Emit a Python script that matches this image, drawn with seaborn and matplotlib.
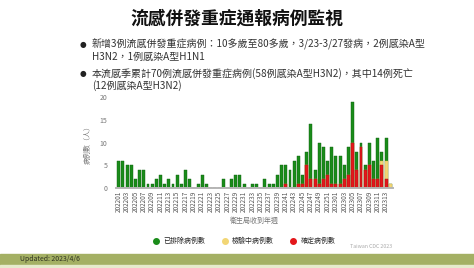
import numpy as np
import pandas as pd
import matplotlib
matplotlib.use("Agg")
import matplotlib.pyplot as plt
from matplotlib.lines import Line2D
from matplotlib.patches import Rectangle
import seaborn as sns

# --- du lieu: so ca theo tuan (202201 - 202314) ---
weeks = [f"2022{w:02d}" for w in range(1, 53)] + [f"2023{w:02d}" for w in range(1, 15)]

excluded = [6, 6, 5, 5, 2, 4, 4, 1, 1, 2, 3, 1, 2, 1, 3, 1, 4, 2,
            0, 1, 3, 1, 0, 0, 0, 2, 0, 2, 3, 3, 1, 0, 1, 1, 0, 2, 1, 1, 3,
            5, 4, 4, 6, 6, 2, 3, 12, 2, 9, 7, 3, 8,
            6, 6, 3, 6, 9, 4, 1, 1, 5, 4, 9, 2, 5, 0]
testing = [0] * 63 + [1, 4, 1]
confirmed = [0] * 40 + [1, 0, 0, 1, 1, 5, 2, 2, 1, 2, 3, 1,
                        1, 1, 2, 3, 10, 4, 9, 4, 5, 2, 2, 5, 2, 0]

title = "流感併發重症通報病例監視"
bullets = [
    ("新增3例流感併發重症病例：10多歲至80多歲，3/23-3/27發病，2例感染A型", "H3N2，1例感染A型H1N1"),
    ("本流感季累計70例流感併發重症病例(58例感染A型H3N2)，其中14例死亡", "(12例感染A型H3N2)"),
]
legend_labels = ["已排除病例數", "檢驗中病例數", "確定病例數"]

GREEN = "#1a8c1a"
YELLOW = "#f2d675"
RED = "#e3171b"

df = pd.DataFrame({"week": weeks, "excluded": excluded,
                   "testing": testing, "confirmed": confirmed})
df["top_red"] = df["confirmed"]
df["top_yellow"] = df["confirmed"] + df["testing"]
df["top_green"] = df["top_yellow"] + df["excluded"]

sns.set_theme(style="white")
plt.rcParams["font.family"] = ["Noto Sans CJK TC", "DejaVu Sans"]

fig = plt.figure(figsize=(4.74, 2.68), dpi=100)
ax = fig.add_axes([0.2443, 0.2974, 0.5852, 0.3406])

# chong cac cot de tao bieu do xep chong
sns.barplot(data=df, x="week", y="top_green", color=GREEN, saturation=1,
            width=0.7, edgecolor="#0d5e0d", linewidth=0.3, ax=ax)
sns.barplot(data=df, x="week", y="top_yellow", color=YELLOW, saturation=1,
            width=0.7, edgecolor="#d9b850", linewidth=0.3, ax=ax)
sns.barplot(data=df, x="week", y="top_red", color=RED, saturation=1,
            width=0.7, edgecolor="#a01010", linewidth=0.3, ax=ax)

ax.set_xlim(-0.7, 65.7)
ax.set_ylim(0, 20)
ax.set_yticks([0, 5, 10, 15, 20])
ax.tick_params(axis="y", labelsize=5, colors="#777777", length=0, pad=6)
ax.set_xticks(range(0, len(weeks), 2))
ax.set_xticklabels(weeks[::2], rotation=90, fontsize=4.6, color="#555555")
ax.tick_params(axis="x", length=0, pad=2)
ax.set_xlabel("衛生局收到年週", fontsize=5, color="#777777", labelpad=3)
ax.set_ylabel("病例數（人）", fontsize=5, color="#777777", labelpad=6)
for s in ["top", "right", "left"]:
    ax.spines[s].set_visible(False)
ax.spines["bottom"].set_color("#b5b5b5")
ax.spines["bottom"].set_linewidth(1.4)
ax.set_facecolor("white")

# tieu de va cac dong chu
fig.text(0.499, 0.932, title, ha="center", va="center", fontsize=12.8,
         fontweight="bold", color="#111111")
ys = [(0.835, 0.788), (0.724, 0.679)]
for (l1, l2), (y1, y2) in zip(bullets, ys):
    fig.text(0.175, y1, "●", ha="center", va="center", fontsize=5.5, color="#222222",
             family=["DejaVu Sans"])
    fig.text(0.194, y1, l1, ha="left", va="center", fontsize=7.2, color="#333333")
    fig.text(0.194, y2, l2, ha="left", va="center", fontsize=7.2, color="#333333")

handles = [Line2D([], [], marker="o", ls="", color=c, markersize=4)
           for c in [GREEN, YELLOW, RED]]
fig.legend(handles, legend_labels, loc="center", bbox_to_anchor=(0.515, 0.1),
           ncol=3, frameon=False, fontsize=5, handletextpad=0.6,
           columnspacing=2.2, handlelength=1)

fig.text(0.827, 0.082, "Taiwan CDC 2023", ha="right", va="center",
         fontsize=3.8, color="#aaaaaa")

# thanh mau o duoi
fig.patches.append(Rectangle((0, 0.0112), 1, 0.041, transform=fig.transFigure,
                             color="#a4b064", zorder=0))
fig.patches.append(Rectangle((0, 0), 1, 0.0112, transform=fig.transFigure,
                             color="#e6ebcd", zorder=0))
fig.text(0.042, 0.032, "Updated: 2023/4/6", ha="left", va="center",
         fontsize=5, color="#2f3320")

fig.savefig("out.png", dpi=100)
